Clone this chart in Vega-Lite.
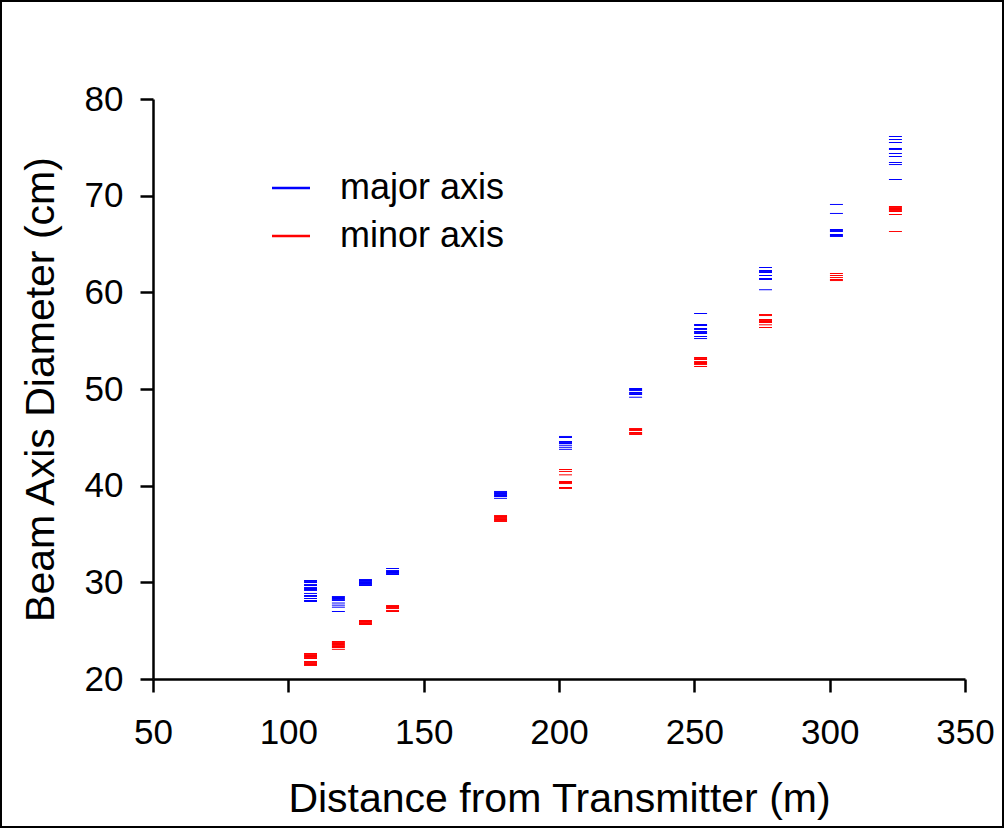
{
  "$schema": "https://vega.github.io/schema/vega-lite/v6.json",
  "width": 812,
  "height": 580,
  "autosize": {"type": "none"},
  "padding": {"left": 153, "top": 99, "right": 40, "bottom": 150},
  "background": "white",
  "config": {
    "view": {"stroke": null},
    "font": "Liberation Sans",
    "axis": {
      "grid": false,
      "domainColor": "black",
      "domainWidth": 2.5,
      "tickColor": "black",
      "tickWidth": 2.5,
      "tickSize": 13,
      "labelFont": "Liberation Sans",
      "labelFontSize": 35,
      "labelColor": "black",
      "labelFlush": false,
      "labelOverlap": false,
      "titleFont": "Liberation Sans",
      "titleFontSize": 41,
      "titleFontWeight": "normal",
      "titleColor": "black"
    }
  },
  "encoding": {
    "x": {
      "field": "distance",
      "type": "quantitative",
      "scale": {"domain": [50, 350], "nice": false, "zero": false},
      "axis": {
        "values": [50, 100, 150, 200, 250, 300, 350],
        "title": "Distance from Transmitter (m)",
        "titleY": 132,
        "titleBaseline": "alphabetic",
        "labelPadding": 23
      }
    },
    "y": {
      "field": "diameter",
      "type": "quantitative",
      "scale": {"domain": [20, 80], "nice": false, "zero": false},
      "axis": {
        "values": [20, 30, 40, 50, 60, 70, 80],
        "title": "Beam Axis Diameter (cm)",
        "titleX": -100,
        "titleY": 290,
        "titleBaseline": "alphabetic",
        "labelPadding": 17
      }
    }
  },
  "layer": [
    {
      "data": {"values": [{"distance": -6.16, "distance2": 364.04, "diameter": 90.14, "diameter2": 4.69}]},
      "mark": {"type": "rect", "fill": null, "fillOpacity": 0, "stroke": "black", "strokeWidth": 2, "clip": false},
      "encoding": {
        "x2": {"field": "distance2"},
        "y2": {"field": "diameter2"}
      }
    },
    {
      "data": {"values": [
        {"distance": 108.2, "axis": "major axis", "diameter": 30.19},
        {"distance": 108.2, "axis": "major axis", "diameter": 30.09},
        {"distance": 108.2, "axis": "major axis", "diameter": 29.98},
        {"distance": 108.2, "axis": "major axis", "diameter": 29.78},
        {"distance": 108.2, "axis": "major axis", "diameter": 29.67},
        {"distance": 108.2, "axis": "major axis", "diameter": 29.47},
        {"distance": 108.2, "axis": "major axis", "diameter": 29.36},
        {"distance": 108.2, "axis": "major axis", "diameter": 29.26},
        {"distance": 108.2, "axis": "major axis", "diameter": 29.16},
        {"distance": 108.2, "axis": "major axis", "diameter": 28.85},
        {"distance": 108.2, "axis": "major axis", "diameter": 28.64},
        {"distance": 108.2, "axis": "major axis", "diameter": 28.54},
        {"distance": 108.2, "axis": "major axis", "diameter": 28.33},
        {"distance": 108.2, "axis": "major axis", "diameter": 28.12},
        {"distance": 108.2, "axis": "major axis", "diameter": 28.02},
        {"distance": 118.5, "axis": "major axis", "diameter": 28.53},
        {"distance": 118.5, "axis": "major axis", "diameter": 28.43},
        {"distance": 118.5, "axis": "major axis", "diameter": 28.33},
        {"distance": 118.5, "axis": "major axis", "diameter": 28.22},
        {"distance": 118.5, "axis": "major axis", "diameter": 28.12},
        {"distance": 118.5, "axis": "major axis", "diameter": 27.86},
        {"distance": 118.5, "axis": "major axis", "diameter": 27.64},
        {"distance": 118.5, "axis": "major axis", "diameter": 27.43},
        {"distance": 118.5, "axis": "major axis", "diameter": 26.98},
        {"distance": 128.5, "axis": "major axis", "diameter": 30.29},
        {"distance": 128.5, "axis": "major axis", "diameter": 30.19},
        {"distance": 128.5, "axis": "major axis", "diameter": 30.09},
        {"distance": 128.5, "axis": "major axis", "diameter": 29.98},
        {"distance": 128.5, "axis": "major axis", "diameter": 29.88},
        {"distance": 128.5, "axis": "major axis", "diameter": 29.78},
        {"distance": 128.5, "axis": "major axis", "diameter": 29.67},
        {"distance": 138.5, "axis": "major axis", "diameter": 31.43},
        {"distance": 138.5, "axis": "major axis", "diameter": 31.22},
        {"distance": 138.5, "axis": "major axis", "diameter": 31.12},
        {"distance": 138.5, "axis": "major axis", "diameter": 31.02},
        {"distance": 138.5, "axis": "major axis", "diameter": 30.91},
        {"distance": 138.5, "axis": "major axis", "diameter": 30.81},
        {"distance": 178.4, "axis": "major axis", "diameter": 39.40},
        {"distance": 178.4, "axis": "major axis", "diameter": 39.29},
        {"distance": 178.4, "axis": "major axis", "diameter": 39.19},
        {"distance": 178.4, "axis": "major axis", "diameter": 39.09},
        {"distance": 178.4, "axis": "major axis", "diameter": 38.98},
        {"distance": 178.4, "axis": "major axis", "diameter": 38.88},
        {"distance": 178.4, "axis": "major axis", "diameter": 38.69},
        {"distance": 202.4, "axis": "major axis", "diameter": 45.09},
        {"distance": 202.4, "axis": "major axis", "diameter": 44.98},
        {"distance": 202.4, "axis": "major axis", "diameter": 44.57},
        {"distance": 202.4, "axis": "major axis", "diameter": 44.47},
        {"distance": 202.4, "axis": "major axis", "diameter": 44.36},
        {"distance": 202.4, "axis": "major axis", "diameter": 44.18},
        {"distance": 202.4, "axis": "major axis", "diameter": 43.97},
        {"distance": 202.4, "axis": "major axis", "diameter": 43.76},
        {"distance": 228.3, "axis": "major axis", "diameter": 50.05},
        {"distance": 228.3, "axis": "major axis", "diameter": 49.95},
        {"distance": 228.3, "axis": "major axis", "diameter": 49.84},
        {"distance": 228.3, "axis": "major axis", "diameter": 49.64},
        {"distance": 228.3, "axis": "major axis", "diameter": 49.53},
        {"distance": 228.3, "axis": "major axis", "diameter": 49.43},
        {"distance": 228.3, "axis": "major axis", "diameter": 49.15},
        {"distance": 252.3, "axis": "major axis", "diameter": 57.81},
        {"distance": 252.3, "axis": "major axis", "diameter": 56.67},
        {"distance": 252.3, "axis": "major axis", "diameter": 56.57},
        {"distance": 252.3, "axis": "major axis", "diameter": 56.26},
        {"distance": 252.3, "axis": "major axis", "diameter": 56.16},
        {"distance": 252.3, "axis": "major axis", "diameter": 55.95},
        {"distance": 252.3, "axis": "major axis", "diameter": 55.85},
        {"distance": 252.3, "axis": "major axis", "diameter": 55.74},
        {"distance": 252.3, "axis": "major axis", "diameter": 55.43},
        {"distance": 252.3, "axis": "major axis", "diameter": 55.22},
        {"distance": 276.3, "axis": "major axis", "diameter": 62.57},
        {"distance": 276.3, "axis": "major axis", "diameter": 62.26},
        {"distance": 276.3, "axis": "major axis", "diameter": 62.16},
        {"distance": 276.3, "axis": "major axis", "diameter": 62.05},
        {"distance": 276.3, "axis": "major axis", "diameter": 61.74},
        {"distance": 276.3, "axis": "major axis", "diameter": 61.43},
        {"distance": 276.3, "axis": "major axis", "diameter": 61.33},
        {"distance": 276.3, "axis": "major axis", "diameter": 60.27},
        {"distance": 302.5, "axis": "major axis", "diameter": 69.09},
        {"distance": 302.5, "axis": "major axis", "diameter": 68.16},
        {"distance": 302.5, "axis": "major axis", "diameter": 66.50},
        {"distance": 302.5, "axis": "major axis", "diameter": 66.40},
        {"distance": 302.5, "axis": "major axis", "diameter": 66.29},
        {"distance": 302.5, "axis": "major axis", "diameter": 65.98},
        {"distance": 302.5, "axis": "major axis", "diameter": 65.88},
        {"distance": 302.5, "axis": "major axis", "diameter": 65.78},
        {"distance": 324.3, "axis": "major axis", "diameter": 76.12},
        {"distance": 324.3, "axis": "major axis", "diameter": 75.81},
        {"distance": 324.3, "axis": "major axis", "diameter": 75.50},
        {"distance": 324.3, "axis": "major axis", "diameter": 74.88},
        {"distance": 324.3, "axis": "major axis", "diameter": 74.78},
        {"distance": 324.3, "axis": "major axis", "diameter": 74.36},
        {"distance": 324.3, "axis": "major axis", "diameter": 74.05},
        {"distance": 324.3, "axis": "major axis", "diameter": 73.43},
        {"distance": 324.3, "axis": "major axis", "diameter": 73.22},
        {"distance": 324.3, "axis": "major axis", "diameter": 71.67},
        {"distance": 108.2, "axis": "minor axis", "diameter": 22.64},
        {"distance": 108.2, "axis": "minor axis", "diameter": 22.54},
        {"distance": 108.2, "axis": "minor axis", "diameter": 22.43},
        {"distance": 108.2, "axis": "minor axis", "diameter": 22.33},
        {"distance": 108.2, "axis": "minor axis", "diameter": 22.22},
        {"distance": 108.2, "axis": "minor axis", "diameter": 22.12},
        {"distance": 108.2, "axis": "minor axis", "diameter": 21.81},
        {"distance": 108.2, "axis": "minor axis", "diameter": 21.71},
        {"distance": 108.2, "axis": "minor axis", "diameter": 21.60},
        {"distance": 108.2, "axis": "minor axis", "diameter": 21.50},
        {"distance": 108.2, "axis": "minor axis", "diameter": 21.40},
        {"distance": 118.5, "axis": "minor axis", "diameter": 23.88},
        {"distance": 118.5, "axis": "minor axis", "diameter": 23.78},
        {"distance": 118.5, "axis": "minor axis", "diameter": 23.67},
        {"distance": 118.5, "axis": "minor axis", "diameter": 23.57},
        {"distance": 118.5, "axis": "minor axis", "diameter": 23.47},
        {"distance": 118.5, "axis": "minor axis", "diameter": 23.36},
        {"distance": 118.5, "axis": "minor axis", "diameter": 23.26},
        {"distance": 118.5, "axis": "minor axis", "diameter": 23.07},
        {"distance": 128.5, "axis": "minor axis", "diameter": 26.05},
        {"distance": 128.5, "axis": "minor axis", "diameter": 25.95},
        {"distance": 128.5, "axis": "minor axis", "diameter": 25.84},
        {"distance": 128.5, "axis": "minor axis", "diameter": 25.74},
        {"distance": 128.5, "axis": "minor axis", "diameter": 25.64},
        {"distance": 138.5, "axis": "minor axis", "diameter": 27.60},
        {"distance": 138.5, "axis": "minor axis", "diameter": 27.50},
        {"distance": 138.5, "axis": "minor axis", "diameter": 27.40},
        {"distance": 138.5, "axis": "minor axis", "diameter": 27.29},
        {"distance": 138.5, "axis": "minor axis", "diameter": 27.09},
        {"distance": 138.5, "axis": "minor axis", "diameter": 26.98},
        {"distance": 178.4, "axis": "minor axis", "diameter": 36.91},
        {"distance": 178.4, "axis": "minor axis", "diameter": 36.81},
        {"distance": 178.4, "axis": "minor axis", "diameter": 36.71},
        {"distance": 178.4, "axis": "minor axis", "diameter": 36.60},
        {"distance": 178.4, "axis": "minor axis", "diameter": 36.50},
        {"distance": 178.4, "axis": "minor axis", "diameter": 36.40},
        {"distance": 178.4, "axis": "minor axis", "diameter": 36.29},
        {"distance": 202.4, "axis": "minor axis", "diameter": 41.67},
        {"distance": 202.4, "axis": "minor axis", "diameter": 41.47},
        {"distance": 202.4, "axis": "minor axis", "diameter": 41.12},
        {"distance": 202.4, "axis": "minor axis", "diameter": 40.43},
        {"distance": 202.4, "axis": "minor axis", "diameter": 40.33},
        {"distance": 202.4, "axis": "minor axis", "diameter": 40.22},
        {"distance": 202.4, "axis": "minor axis", "diameter": 39.81},
        {"distance": 202.4, "axis": "minor axis", "diameter": 39.71},
        {"distance": 228.3, "axis": "minor axis", "diameter": 45.91},
        {"distance": 228.3, "axis": "minor axis", "diameter": 45.81},
        {"distance": 228.3, "axis": "minor axis", "diameter": 45.71},
        {"distance": 228.3, "axis": "minor axis", "diameter": 45.50},
        {"distance": 228.3, "axis": "minor axis", "diameter": 45.40},
        {"distance": 228.3, "axis": "minor axis", "diameter": 45.29},
        {"distance": 252.3, "axis": "minor axis", "diameter": 53.26},
        {"distance": 252.3, "axis": "minor axis", "diameter": 53.16},
        {"distance": 252.3, "axis": "minor axis", "diameter": 53.05},
        {"distance": 252.3, "axis": "minor axis", "diameter": 52.84},
        {"distance": 252.3, "axis": "minor axis", "diameter": 52.74},
        {"distance": 252.3, "axis": "minor axis", "diameter": 52.64},
        {"distance": 252.3, "axis": "minor axis", "diameter": 52.53},
        {"distance": 252.3, "axis": "minor axis", "diameter": 52.33},
        {"distance": 276.3, "axis": "minor axis", "diameter": 57.71},
        {"distance": 276.3, "axis": "minor axis", "diameter": 57.60},
        {"distance": 276.3, "axis": "minor axis", "diameter": 57.19},
        {"distance": 276.3, "axis": "minor axis", "diameter": 57.09},
        {"distance": 276.3, "axis": "minor axis", "diameter": 56.98},
        {"distance": 276.3, "axis": "minor axis", "diameter": 56.88},
        {"distance": 276.3, "axis": "minor axis", "diameter": 56.64},
        {"distance": 276.3, "axis": "minor axis", "diameter": 56.36},
        {"distance": 302.5, "axis": "minor axis", "diameter": 61.95},
        {"distance": 302.5, "axis": "minor axis", "diameter": 61.74},
        {"distance": 302.5, "axis": "minor axis", "diameter": 61.53},
        {"distance": 302.5, "axis": "minor axis", "diameter": 61.33},
        {"distance": 302.5, "axis": "minor axis", "diameter": 61.22},
        {"distance": 324.3, "axis": "minor axis", "diameter": 68.88},
        {"distance": 324.3, "axis": "minor axis", "diameter": 68.78},
        {"distance": 324.3, "axis": "minor axis", "diameter": 68.67},
        {"distance": 324.3, "axis": "minor axis", "diameter": 68.57},
        {"distance": 324.3, "axis": "minor axis", "diameter": 68.47},
        {"distance": 324.3, "axis": "minor axis", "diameter": 68.36},
        {"distance": 324.3, "axis": "minor axis", "diameter": 68.05},
        {"distance": 324.3, "axis": "minor axis", "diameter": 66.29}
      ]},
      "mark": {"type": "tick", "orient": "horizontal", "thickness": 1, "size": 13, "opacity": 1},
      "encoding": {
        "color": {
          "field": "axis",
          "type": "nominal",
          "scale": {"domain": ["major axis", "minor axis"], "range": ["#0000ff", "#ff0000"]},
          "legend": {
            "orient": "none",
            "legendX": 119,
            "legendY": 70,
            "title": null,
            "padding": 0,
            "symbolType": "M-1,-0.066H1V0.066H-1Z",
            "symbolSize": 1444,
            "symbolOpacity": 1,
            "symbolStrokeWidth": 0,
            "labelFont": "Liberation Sans",
            "labelFontSize": 36,
            "labelLimit": 400,
            "labelColor": "black",
            "labelOffset": 30,
            "rowPadding": 11
          }
        }
      }
    }
  ]
}
